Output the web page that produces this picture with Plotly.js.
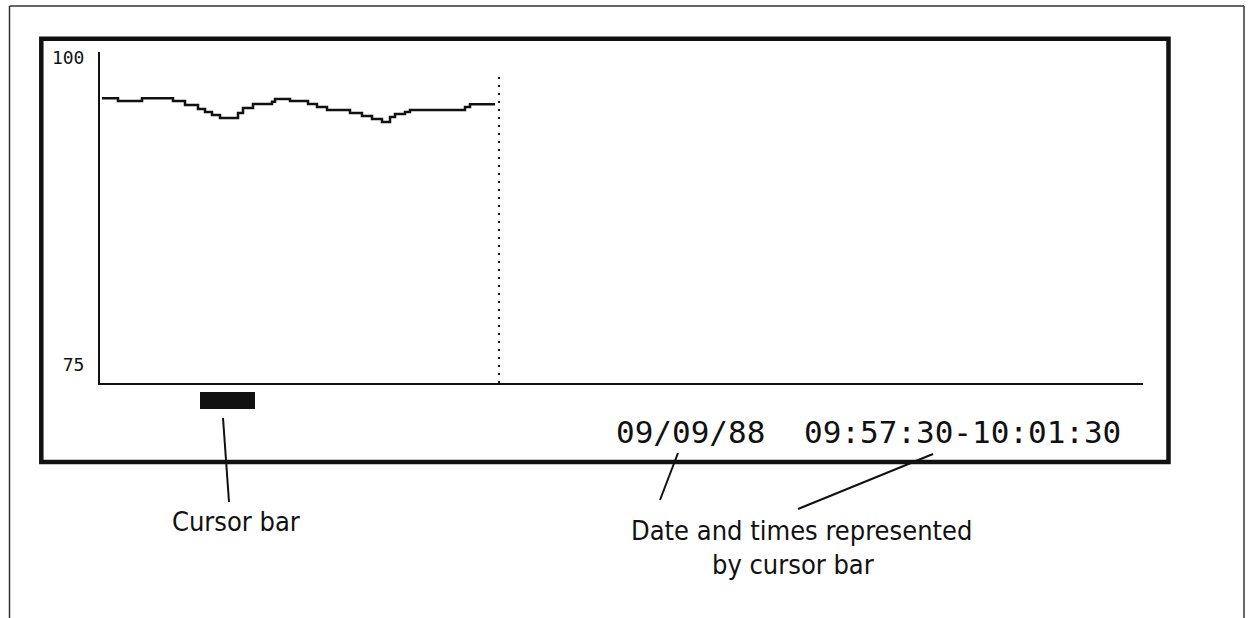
<!DOCTYPE html>
<html><head><meta charset="utf-8">
<script src="https://cdn.plot.ly/plotly-3.0.1.min.js"></script>
<style>html,body{margin:0;padding:0;background:#fff;overflow:hidden}#chart{width:1250px;height:618px}</style>
</head><body><div id="chart"></div>
<script>
// ---- data ----
const sampleIndex = [2,18,42,73,85,98,105,112,120,138,143,153,172,175,190,208,217,227,250,262,272,282,290,295,305,310,365,370,395];
const saturation  = [96.68,96.46,96.68,96.46,96.14,95.81,95.57,95.33,95.08,95.49,95.89,96.22,96.40,96.63,96.46,96.22,95.98,95.73,95.49,95.24,95.00,94.76,95.16,95.41,95.57,95.73,95.98,96.20,96.20];
const yTicks = [75, 100];
const yTickLabels = ["75", "100"];
const nowIndex = 399;            // dotted "current position" line
const cursorWindow = [100, 155]; // sample window covered by the cursor bar
const dateLabel = "09/09/88";
const timeLabel = "09:57:30-10:01:30";
const cursorCaption = "Cursor bar";
const captionLines = ["Date and times represented", "by cursor bar"];

// ---- layout helpers (page pixels -> paper) ----
const L = 100, R = 1143, T = 52, B = 383, W = R - L, H = B - T;
const px = x => (x - L) / W;
const py = y => (B - y) / H;
const ink = '#111';
const narrow = '"Liberation Sans Narrow", "DejaVu Sans Condensed", "Liberation Sans", sans-serif';
const mono = '"DejaVu Sans Mono", "Liberation Mono", monospace';

function seg(x0, y0, x1, y1, w, c) {
  return {type: 'line', xref: 'paper', yref: 'paper', x0: px(x0), y0: py(y0), x1: px(x1), y1: py(y1),
          line: {color: c || ink, width: w}};
}

const traces = [{
  x: sampleIndex, y: saturation, type: 'scatter', mode: 'lines',
  line: {shape: 'hv', color: ink, width: 2.5}, hoverinfo: 'skip', showlegend: false
}];

const shapes = [
  // outer thin frame (open at the bottom)
  seg(9.5, 6, 1244, 6, 1.5, '#333'),
  seg(9.5, 6, 9.5, 618, 1.5, '#333'),
  seg(1244, 6, 1244, 618, 1.5, '#333'),
  // inner thick frame
  {type: 'rect', xref: 'paper', yref: 'paper', x0: px(41.3), y0: py(38.7), x1: px(1168.5), y1: py(462),
   line: {color: ink, width: 4.5}, fillcolor: 'rgba(0,0,0,0)'},
  // dotted current-position line
  {type: 'line', xref: 'x', yref: 'paper', x0: nowIndex, x1: nowIndex, y0: 0, y1: py(72),
   line: {color: ink, width: 2, dash: '2px,6px'}},
  // cursor bar
  {type: 'rect', xref: 'x', yref: 'paper', x0: cursorWindow[0], x1: cursorWindow[1], y0: py(409), y1: py(392),
   line: {width: 0}, fillcolor: ink},
  // pointer lines
  seg(223, 418, 229, 502, 2),
  seg(678, 453, 660, 500, 2),
  seg(933, 454, 798, 509, 2)
];

const annotations = [
  {xref: 'paper', yref: 'paper', x: px(614), y: py(431.5), xanchor: 'left', yanchor: 'middle',
   text: dateLabel, showarrow: false, font: {family: mono, size: 31, color: ink}},
  {xref: 'paper', yref: 'paper', x: px(1123), y: py(431.5), xanchor: 'right', yanchor: 'middle',
   text: timeLabel, showarrow: false, font: {family: mono, size: 31, color: ink}},
  {xref: 'paper', yref: 'paper', x: px(236), y: py(521), xanchor: 'center', yanchor: 'middle',
   text: cursorCaption, showarrow: false, font: {family: narrow, size: 27, color: ink}},
  {xref: 'paper', yref: 'paper', x: px(801), y: py(530), xanchor: 'center', yanchor: 'middle',
   text: captionLines[0], showarrow: false, font: {family: narrow, size: 27, color: ink}},
  {xref: 'paper', yref: 'paper', x: px(793), y: py(564), xanchor: 'center', yanchor: 'middle',
   text: captionLines[1], showarrow: false, font: {family: narrow, size: 27, color: ink}}
];

const layout = {
  width: 1250, height: 618,
  margin: {l: L, r: 1250 - R, t: T, b: 618 - B, pad: 0},
  paper_bgcolor: '#fff', plot_bgcolor: '#fff',
  showlegend: false,
  xaxis: {range: [0, W], showgrid: false, zeroline: false, showticklabels: false, ticks: '',
          showline: true, linecolor: ink, linewidth: 2, fixedrange: true},
  yaxis: {range: [73.54, 100.45], showgrid: false, zeroline: false, ticks: '',
          tickvals: yTicks, ticktext: yTickLabels, ticklabelstandoff: 10,
          tickfont: {family: mono, size: 18, color: ink},
          showline: true, linecolor: ink, linewidth: 2, fixedrange: true},
  shapes: shapes,
  annotations: annotations
};

Plotly.newPlot('chart', traces, layout, {staticPlot: true, displayModeBar: false});
</script>
</body></html>
